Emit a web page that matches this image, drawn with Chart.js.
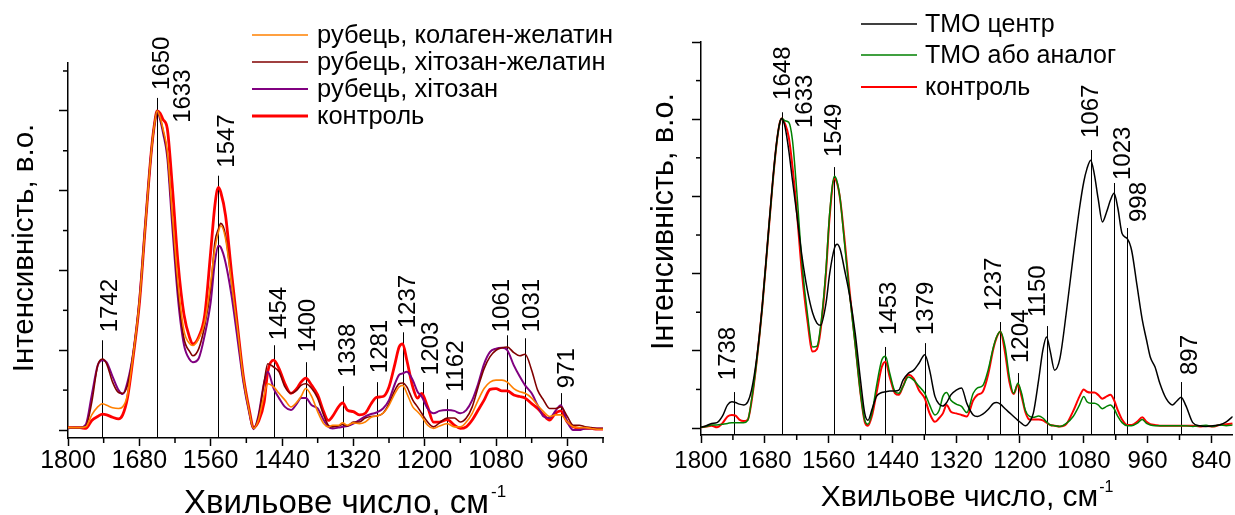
<!DOCTYPE html>
<html>
<head>
<meta charset="utf-8">
<script src="https://cdn.jsdelivr.net/npm/chart.js@4.4.1/dist/chart.umd.min.js"></script>
<style>
  html, body { margin: 0; padding: 0; background: #fff; }
  #wrap { position: relative; width: 1235px; height: 515px; overflow: hidden; background: #fff; }
  .panel { position: absolute; top: 0; height: 515px; }
</style>
</head>
<body>
<div id="wrap">
  <div class="panel" style="left:0;width:620px"><canvas id="leftChart" width="620" height="515"></canvas></div>
  <div class="panel" style="left:620px;width:615px"><canvas id="rightChart" width="615" height="515"></canvas></div>
</div>
<script>
const FONT = "'Liberation Sans', Arial, Helvetica, sans-serif";

// ---------- Left panel: scar tissue, FTIR spectra ----------
const leftWavenumbers = [1800,1790,1780,1770,1760,1750,1742,1735,1725,1715,1708,1700,1690,1680,1670,1660,1655,1650,1645,1640,1633,1625,1615,1605,1595,1590,1580,1570,1560,1553,1547,1543,1535,1525,1515,1505,1495,1488,1480,1470,1464,1454,1445,1435,1425,1415,1408,1400,1390,1380,1370,1362,1355,1345,1338,1330,1320,1310,1300,1290,1281,1270,1260,1250,1243,1237,1230,1220,1212,1205,1195,1185,1175,1162,1150,1140,1130,1120,1110,1100,1090,1080,1070,1061,1050,1040,1031,1020,1010,1000,990,980,971,960,950,940,930,920,910,900];

const scarCollagenGelatin = [0.03,0.03,0.03,0.04,0.19,0.29,0.33,0.31,0.28,0.27,0.29,0.44,0.96,1.60,2.56,3.48,3.81,4.00,3.92,3.77,3.50,2.75,1.85,1.25,1.08,1.06,1.15,1.35,1.85,2.27,2.48,2.56,2.40,1.85,1.27,0.65,0.23,0.02,0.12,0.44,0.58,0.54,0.46,0.375,0.29,0.35,0.42,0.52,0.42,0.23,0.08,0.04,0.06,0.06,0.09,0.06,0.09,0.08,0.10,0.16,0.175,0.21,0.31,0.46,0.54,0.56,0.46,0.29,0.23,0.17,0.06,0.02,0.05,0.08,0.04,0.04,0.10,0.21,0.375,0.52,0.60,0.625,0.625,0.60,0.52,0.48,0.46,0.40,0.31,0.23,0.17,0.19,0.19,0.10,0.04,0.03,0.03,0.02,0.01,0.01];

const scarChitosanGelatin = [0.03,0.03,0.03,0.05,0.35,0.81,0.89,0.83,0.60,0.47,0.46,0.56,0.97,1.60,2.56,3.48,3.81,4.00,3.91,3.75,3.46,2.70,1.75,1.15,0.98,0.93,1.02,1.31,1.77,2.35,2.52,2.59,2.44,1.85,1.27,0.65,0.23,0.02,0.15,0.60,0.83,0.79,0.73,0.54,0.46,0.50,0.56,0.58,0.52,0.40,0.19,0.06,0.04,0.05,0.07,0.05,0.10,0.10,0.15,0.17,0.175,0.21,0.33,0.50,0.58,0.59,0.54,0.375,0.29,0.21,0.10,0.04,0.09,0.15,0.15,0.10,0.15,0.29,0.54,0.77,0.92,1.00,1.03,1.04,0.97,0.93,0.95,0.75,0.50,0.375,0.27,0.27,0.29,0.17,0.06,0.06,0.04,0.03,0.02,0.02];

const scarChitosan = [0.02,0.03,0.03,0.07,0.44,0.81,0.875,0.85,0.67,0.50,0.45,0.60,0.98,1.62,2.58,3.48,3.81,4.00,3.89,3.72,3.42,2.60,1.65,1.07,0.88,0.85,0.90,1.19,1.60,2.10,2.31,2.29,2.10,1.69,1.15,0.60,0.21,0.01,0.17,0.60,0.73,0.52,0.40,0.29,0.25,0.33,0.40,0.40,0.31,0.27,0.125,0.04,0.02,0.03,0.04,0.05,0.08,0.125,0.17,0.20,0.22,0.27,0.375,0.58,0.69,0.71,0.73,0.625,0.48,0.42,0.27,0.21,0.24,0.25,0.24,0.21,0.25,0.375,0.58,0.83,0.98,1.02,1.03,1.00,0.81,0.67,0.56,0.46,0.31,0.17,0.15,0.24,0.31,0.10,0.00,0.00,0.02,0.02,0.02,0.02];

const controlLeft = [0.03,0.03,0.03,0.02,0.12,0.17,0.20,0.19,0.16,0.14,0.19,0.40,0.94,1.58,2.55,3.48,3.81,4.00,3.97,3.89,3.78,3.10,2.10,1.45,1.15,1.08,1.17,1.44,2.23,2.81,3.04,2.98,2.69,1.98,1.31,0.67,0.25,0.03,0.10,0.35,0.73,0.875,0.77,0.58,0.46,0.52,0.60,0.65,0.56,0.44,0.23,0.12,0.17,0.29,0.34,0.25,0.23,0.19,0.21,0.33,0.41,0.42,0.54,0.83,1.04,1.08,0.875,0.54,0.40,0.46,0.29,0.10,0.10,0.13,0.06,0.02,0.04,0.125,0.25,0.375,0.51,0.52,0.49,0.49,0.44,0.42,0.40,0.33,0.27,0.19,0.125,0.21,0.24,0.10,0.04,0.02,0.02,0.02,0.01,0.01];

const leftSeriesNames = ['рубець, колаген-желатин', 'рубець, хітозан-желатин', 'рубець, хітозан', 'контроль'];
const leftPeaks = [1742, 1650, 1633, 1547, 1454, 1400, 1338, 1281, 1237, 1203, 1162, 1061, 1031, 971];

// ---------- Right panel: ТМО spectra ----------
const rightWavenumbers = [1800,1790,1780,1770,1760,1750,1742,1735,1728,1720,1712,1705,1695,1685,1675,1665,1658,1652,1648,1642,1635,1628,1620,1610,1600,1590,1582,1575,1565,1558,1549,1544,1538,1530,1520,1510,1500,1492,1486,1478,1470,1460,1453,1445,1435,1428,1420,1410,1400,1390,1379,1370,1360,1352,1345,1338,1330,1320,1310,1300,1288,1280,1270,1260,1250,1244,1237,1228,1220,1212,1204,1197,1190,1182,1175,1165,1157,1150,1143,1135,1125,1113,1100,1088,1080,1074,1067,1060,1053,1045,1037,1030,1023,1016,1008,998,990,980,970,962,955,946,937,925,913,905,897,888,875,862,850,837,825,812,800];

const tmoCenter = [0.01,0.03,0.06,0.07,0.15,0.30,0.34,0.33,0.31,0.30,0.34,0.49,0.92,1.57,2.39,3.21,3.69,3.95,4.01,3.90,3.60,3.21,2.78,2.22,1.79,1.49,1.36,1.33,1.61,2.00,2.33,2.38,2.31,2.05,1.70,1.23,0.62,0.19,0.10,0.25,0.41,0.46,0.47,0.48,0.48,0.49,0.62,0.71,0.75,0.84,0.95,0.75,0.41,0.31,0.285,0.33,0.43,0.49,0.52,0.32,0.17,0.15,0.18,0.24,0.32,0.33,0.31,0.25,0.20,0.15,0.10,0.06,0.03,0.08,0.19,0.62,1.01,1.18,0.99,0.75,0.90,1.49,2.22,2.85,3.19,3.36,3.47,3.28,2.97,2.67,2.80,2.95,3.04,2.85,2.52,2.45,2.30,1.85,1.40,1.14,0.92,0.79,0.58,0.38,0.30,0.35,0.40,0.29,0.07,0.03,0.02,0.03,0.04,0.08,0.15];

const tmoAnalog = [0.01,0.02,0.04,0.04,0.05,0.06,0.07,0.07,0.07,0.07,0.10,0.36,0.88,1.55,2.37,3.19,3.67,3.95,4.01,3.98,3.96,3.73,3.08,2.13,1.49,1.05,1.06,1.32,2.05,2.78,3.26,3.19,2.95,2.39,1.70,1.08,0.45,0.10,0.05,0.21,0.54,0.88,0.93,0.71,0.47,0.45,0.54,0.66,0.62,0.54,0.45,0.30,0.17,0.23,0.41,0.46,0.36,0.31,0.28,0.20,0.45,0.52,0.55,0.75,1.05,1.18,1.25,1.05,0.66,0.45,0.58,0.45,0.23,0.15,0.14,0.155,0.13,0.08,0.04,0.03,0.02,0.06,0.15,0.30,0.41,0.34,0.32,0.32,0.30,0.25,0.28,0.30,0.25,0.15,0.07,0.03,0.03,0.06,0.11,0.06,0.04,0.03,0.03,0.03,0.03,0.03,0.03,0.03,0.02,0.03,0.035,0.02,0.04,0.03,0.04];

const controlRight = [0.01,0.02,0.03,0.01,0.06,0.15,0.17,0.16,0.11,0.09,0.11,0.34,0.88,1.55,2.37,3.19,3.67,3.95,4.01,3.94,3.77,3.39,2.82,2.00,1.40,0.99,1.02,1.27,2.00,2.74,3.23,3.17,2.95,2.44,1.74,1.10,0.45,0.08,0.03,0.17,0.45,0.79,0.86,0.66,0.45,0.43,0.54,0.69,0.64,0.49,0.38,0.19,0.08,0.13,0.19,0.30,0.21,0.19,0.17,0.15,0.36,0.43,0.47,0.69,1.03,1.17,1.25,0.97,0.60,0.44,0.56,0.41,0.21,0.11,0.11,0.11,0.10,0.07,0.04,0.03,0.02,0.05,0.22,0.41,0.50,0.47,0.46,0.46,0.43,0.38,0.41,0.43,0.36,0.23,0.11,0.04,0.04,0.08,0.14,0.08,0.05,0.04,0.03,0.03,0.03,0.03,0.03,0.03,0.03,0.02,0.025,0.02,0.04,0.05,0.06];

const rightSeriesNames = ['ТМО центр', 'ТМО або аналог', 'контроль'];
const rightPeaks = [1738, 1648, 1633, 1549, 1453, 1379, 1237, 1204, 1150, 1067, 1023, 998, 897];

// ---------- Layout of annotations (not data) ----------
// line: top of the marker line (intensity units), text: where the rotated label starts, dx: pixel shift of the label
const leftPeakLayout = [
  {line: 1.125, text: 1.225, dx: 7.5}, {line: 4.1625, text: 4.2625, dx: 5.4}, {line: null, text: 3.85, dx: 15.8},
  {line: 3.1875, text: 3.2875, dx: 9}, {line: 1.0625, text: 1.125, dx: 5.5}, {line: 0.85, text: 0.975, dx: 2.5},
  {line: 0.55, text: 0.6625, dx: 5.6}, {line: 0.60, text: 0.7125, dx: 3.7}, {line: 1.225, text: 1.275, dx: 5.6},
  {line: 0.60, text: 0.6875, dx: 8.4}, {line: 0.3875, text: 0.475, dx: 9}, {line: 1.1875, text: 1.225, dx: -4.5},
  {line: 1.15, text: 1.225, dx: 7}, {line: 0.4625, text: 0.525, dx: 7}
];
const rightPeakLayout = [
  {line: 0.466, text: 0.62, dx: -6}, {line: 4.09, text: 4.25, dx: 2}, {line: null, text: 3.886, dx: 16},
  {line: 3.38, text: 3.51, dx: -0.5}, {line: 1.05, text: 1.205, dx: 3.4}, {line: 1.10, text: 1.205, dx: 2},
  {line: 1.373, text: 1.516, dx: -5.5}, {line: 0.712, text: 0.842, dx: 4}, {line: 1.321, text: 1.438, dx: -8},
  {line: 3.601, text: 3.756, dx: 1}, {line: 3.174, text: 3.212, dx: 9.6}, {line: 2.591, text: 2.668, dx: 12},
  {line: 0.596, text: 0.687, dx: 9.6}
];

function points(xs, ys) {
  return xs.map((x, i) => ({x: x, y: ys[i]}));
}
function range(from, to, step) {
  const out = [];
  if (step < 0) { for (let v = from; v >= to - 1e-9; v += step) out.push(Math.round(v * 100) / 100); }
  else { for (let v = from; v <= to + 1e-9; v += step) out.push(Math.round(v * 100) / 100); }
  return out;
}
const isMajorX = (v) => Math.abs((1800 - v) % 120) < 1e-6;
const isMajorY = (v) => Math.abs(v - Math.round(v)) < 1e-6;

// Minor ticks, peak markers, legend and axis titles
function makeDecor(cfg) {
  return {
    id: 'decor' + cfg.key,
    beforeDatasetsDraw(chart) {
      const {ctx, chartArea} = chart;
      const xs = chart.scales.x, ys = chart.scales.y;
      ctx.save();
      ctx.strokeStyle = '#000';
      ctx.lineWidth = 1;
      cfg.peaks.forEach((wn, i) => {
        const lay = cfg.peakLayout[i];
        if (lay.line === null) return;
        const px = Math.round(xs.getPixelForValue(wn)) + 0.5;
        ctx.beginPath();
        ctx.moveTo(px, ys.getPixelForValue(lay.line));
        ctx.lineTo(px, chartArea.bottom);
        ctx.stroke();
      });
      ctx.restore();
    },
    afterDraw(chart) {
      const {ctx, chartArea} = chart;
      const xs = chart.scales.x, ys = chart.scales.y;
      ctx.save();
      // minor ticks
      ctx.strokeStyle = '#000';
      ctx.lineWidth = 1.5;
      xs.ticks.forEach(t => {
        if (isMajorX(t.value)) return;
        const px = xs.getPixelForValue(t.value);
        ctx.beginPath(); ctx.moveTo(px, chartArea.bottom); ctx.lineTo(px, chartArea.bottom + 5); ctx.stroke();
      });
      ys.ticks.forEach(t => {
        if (isMajorY(t.value)) return;
        const py = ys.getPixelForValue(t.value);
        ctx.beginPath(); ctx.moveTo(chartArea.left - 5, py); ctx.lineTo(chartArea.left, py); ctx.stroke();
      });
      // peak labels, rotated
      ctx.fillStyle = '#000';
      ctx.font = cfg.peakFont + 'px ' + FONT;
      ctx.textAlign = 'left';
      ctx.textBaseline = 'middle';
      cfg.peaks.forEach((wn, i) => {
        const lay = cfg.peakLayout[i];
        const px = xs.getPixelForValue(wn) + lay.dx;
        const py = ys.getPixelForValue(lay.text);
        ctx.save();
        ctx.translate(px, py);
        ctx.rotate(-Math.PI / 2);
        ctx.fillText(String(wn), 0, 0);
        ctx.restore();
      });
      // legend
      const lg = cfg.legend;
      ctx.font = lg.size + 'px ' + FONT;
      ctx.textBaseline = 'middle';
      chart.data.datasets.forEach((ds, i) => {
        const ly = lg.ys[i];
        ctx.strokeStyle = ds.borderColor;
        ctx.lineWidth = ds.borderWidth;
        ctx.beginPath(); ctx.moveTo(lg.x1, ly); ctx.lineTo(lg.x2, ly); ctx.stroke();
        ctx.fillStyle = '#000';
        ctx.fillText(ds.label, lg.textX, ly + 1);
      });
      // y title
      const yt = cfg.yTitle;
      ctx.font = yt.size + 'px ' + FONT;
      ctx.textAlign = 'center';
      ctx.textBaseline = 'middle';
      ctx.save();
      ctx.translate(yt.cx, yt.cy);
      ctx.rotate(-Math.PI / 2);
      ctx.fillText(yt.text, 0, 0);
      ctx.restore();
      // x title with superscript unit
      const xt = cfg.xTitle;
      ctx.font = xt.size + 'px ' + FONT;
      ctx.textAlign = 'left';
      ctx.textBaseline = 'alphabetic';
      const w = ctx.measureText(xt.text).width;
      const x0 = xt.cx - w / 2;
      ctx.fillText(xt.text, x0, xt.baseline);
      ctx.font = xt.supSize + 'px ' + FONT;
      ctx.fillText(xt.sup, x0 + w + xt.supGap, xt.baseline - xt.supRise);
      ctx.restore();
    }
  };
}

function buildChart(canvasId, p) {
  const datasets = p.series.map(s => ({
    label: s.name,
    data: points(p.xs, s.values),
    borderColor: s.color,
    borderWidth: s.width,
    backgroundColor: s.color,
    fill: false,
    pointRadius: 0,
    cubicInterpolationMode: 'monotone'
  }));
  return new Chart(document.getElementById(canvasId), {
    type: 'line',
    data: {datasets},
    options: {
      responsive: false,
      animation: false,
      events: [],
      layout: {padding: p.padding},
      plugins: {legend: {display: false}, tooltip: {enabled: false}, title: {display: false}},
      scales: {
        x: {
          type: 'linear', reverse: true, min: p.xMin, max: p.xMax,
          afterBuildTicks: (s) => { s.ticks = p.xTicks.map(v => ({value: v})); },
          afterFit: (s) => { s.height = p.xAxisHeight; },
          ticks: {
            autoSkip: false, maxRotation: 0, minRotation: 0, padding: p.xTickPad, color: '#000',
            font: {size: p.tickFont, family: FONT},
            callback: (v) => (isMajorX(v) ? String(v) : '')
          },
          grid: {
            drawOnChartArea: false, drawTicks: true, tickLength: 8, tickWidth: 1.5,
            tickColor: (c) => (c.tick && isMajorX(c.tick.value) ? '#000' : 'rgba(0,0,0,0)')
          },
          border: {display: true, color: '#000', width: 1.5}
        },
        y: {
          type: 'linear', min: p.yMin, max: p.yMax,
          afterBuildTicks: (s) => { s.ticks = p.yTicks.map(v => ({value: v})); },
          afterFit: (s) => { s.width = p.yAxisWidth; },
          ticks: {display: false},
          grid: {
            drawOnChartArea: false, drawTicks: true, tickLength: 9, tickWidth: 1.5,
            tickColor: (c) => (c.tick && isMajorY(c.tick.value) ? '#000' : 'rgba(0,0,0,0)')
          },
          border: {display: true, color: '#000', width: 1.5}
        }
      }
    },
    plugins: [makeDecor(p.decor)]
  });
}

buildChart('leftChart', {
  xs: leftWavenumbers,
  series: [
    {name: leftSeriesNames[0], values: scarCollagenGelatin, color: '#FF8000', width: 1.6},
    {name: leftSeriesNames[1], values: scarChitosanGelatin, color: '#800000', width: 1.6},
    {name: leftSeriesNames[2], values: scarChitosan, color: '#800080', width: 2},
    {name: leftSeriesNames[3], values: controlLeft, color: '#FF0000', width: 2.8}
  ],
  xMin: 900, xMax: 1800, xTicks: range(1800, 900, -60),
  yMin: -0.1, yMax: 4.6, yTicks: range(0, 4.5, 0.5),
  padding: {left: 0, right: 17, top: 63, bottom: 0},
  yAxisWidth: 68, xAxisHeight: 77, xTickPad: 0, tickFont: 25,
  decor: {
    key: 'L', peaks: leftPeaks, peakLayout: leftPeakLayout, peakFont: 24,
    legend: {x1: 252, x2: 308, textX: 317, ys: [35, 62, 89, 116], size: 25.5},
    yTitle: {text: 'Інтенсивність, в.о.', cx: 25, cy: 248, size: 29.5},
    xTitle: {text: 'Хвильове число, см', sup: '-1', cx: 336.5, baseline: 513, size: 33, supSize: 17, supGap: 2, supRise: 16}
  }
});

buildChart('rightChart', {
  xs: rightWavenumbers,
  series: [
    {name: rightSeriesNames[0], values: tmoCenter, color: '#000000', width: 1.5},
    {name: rightSeriesNames[1], values: tmoAnalog, color: '#008000', width: 1.5},
    {name: rightSeriesNames[2], values: controlRight, color: '#FF0000', width: 2}
  ],
  xMin: 800, xMax: 1800, xTicks: range(1800, 840, -60),
  yMin: -0.09, yMax: 5.0, yTicks: range(0, 5, 0.5),
  padding: {left: 0, right: 2, top: 42, bottom: 0},
  yAxisWidth: 81, xAxisHeight: 80, xTickPad: 3.5, tickFont: 24,
  decor: {
    key: 'R', peaks: rightPeaks, peakLayout: rightPeakLayout, peakFont: 24,
    legend: {x1: 241, x2: 297, textX: 305, ys: [24, 55, 87], size: 25},
    yTitle: {text: 'Інтенсивність, в.о.', cx: 44.5, cy: 221.5, size: 30.5},
    xTitle: {text: 'Хвильове число, см', sup: '-1', cx: 339.5, baseline: 506, size: 30, supSize: 16, supGap: 1, supRise: 14}
  }
});
</script>
</body>
</html>
